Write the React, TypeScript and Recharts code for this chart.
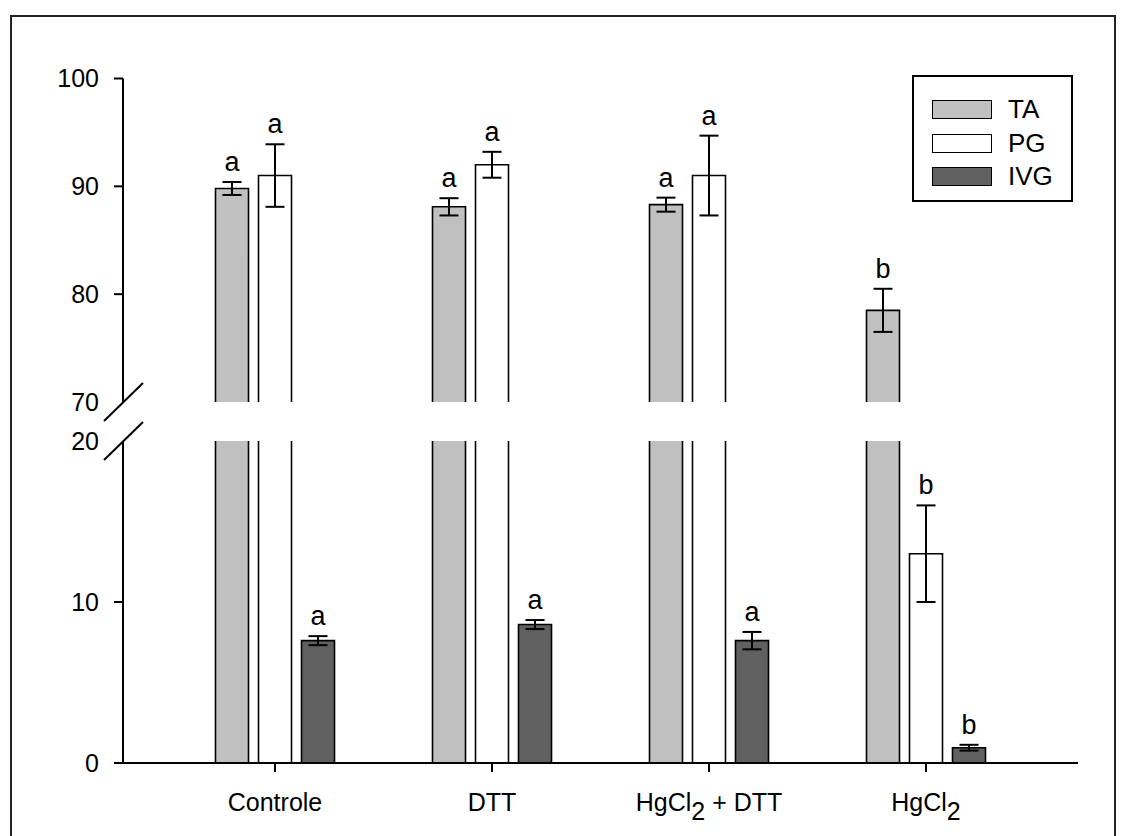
import React from 'react';
import { BarChart, Bar, XAxis, YAxis, ErrorBar, LabelList } from 'recharts';

const categories = ['Controle', 'DTT', 'HgCl2 + DTT', 'HgCl2'];

const taMean = [89.8, 88.1, 88.3, 78.5];
const taErr = [0.6, 0.8, 0.65, 2.0];
const taLetters = ['a', 'a', 'a', 'b'];

const pgMean = [91.0, 92.0, 91.0, 13.0];
const pgErr = [2.9, 1.2, 3.7, 3.0];
const pgLetters = ['a', 'a', 'a', 'b'];

const ivgMean = [7.6, 8.6, 7.6, 0.95];
const ivgErr = [0.28, 0.28, 0.54, 0.18];
const ivgLetters = ['a', 'a', 'a', 'b'];

const upperDomain = [70, 100];
const lowerDomain = [0, 20];
const upperTicks = [70, 80, 90, 100];
const lowerTicks = [0, 10, 20];
const breakTicks = [70, 20];

const series = [
  { key: 'TA', mean: taMean, err: taErr, letters: taLetters, fill: '#c0c0c0' },
  { key: 'PG', mean: pgMean, err: pgErr, letters: pgLetters, fill: '#ffffff' },
  { key: 'IVG', mean: ivgMean, err: ivgErr, letters: ivgLetters, fill: '#606060' },
];

// layout
const FONT = '"Liberation Sans", Arial, sans-serif';
const W = 1125;
const AXIS_X = 123;
const RIGHT = 47;
const UP_TOP = 78.5;
const UP_BOTTOM = 402;
const UP_H = 460;
const LO_TOP = 441;
const LO_BOTTOM = 763;
const LO_H = 836;
const X_AXIS_H = 50;
const Y_TICK_SIZE = 9;
const Y_TICK_MARGIN = 15;
const PAD = 43.5;

function panelRows(lo: number, hi: number) {
  return categories.map((name, i) => {
    const row: any = { name };
    series.forEach((s) => {
      const v = s.mean[i];
      const inside = v >= lo && v <= hi;
      row[s.key] = v >= lo ? v : null;
      row[s.key + 'Err'] = inside ? s.err[i] : null;
      row[s.key + 'Lab'] = inside ? s.letters[i] : null;
    });
    return row;
  });
}

const upperRows = panelRows(upperDomain[0], upperDomain[1]);
const lowerRows = panelRows(lowerDomain[0], lowerDomain[1]);

// bar outline without a bottom edge, cut open where it leaves the panel
const BarShape = (p: any) => {
  const { x, y, width, height, fill, background } = p;
  if (!width || height == null || isNaN(y)) return null;
  const top0 = Math.min(y, y + height);
  const bot0 = Math.max(y, y + height);
  const bTop = background ? background.y : top0;
  const bBot = background ? background.y + background.height : bot0;
  const top = Math.max(top0, bTop);
  const bot = Math.min(bot0, bBot);
  if (bot <= top) return null;
  const openTop = top0 < bTop - 0.5;
  const d = openTop
    ? `M${x},${bot}V${top}M${x + width},${top}V${bot}`
    : `M${x},${bot}V${top}H${x + width}V${bot}`;
  return (
    <g>
      <rect x={x} y={top} width={width} height={bot - top} fill={fill} stroke="none" />
      <path d={d} fill="none" stroke="#000" strokeWidth={1.6} />
    </g>
  );
};

const YTick = (props: any) => {
  const { x, y, payload } = props;
  const ax = x + Y_TICK_SIZE + Y_TICK_MARGIN;
  const isBreak = breakTicks.includes(payload.value);
  return (
    <g>
      {isBreak ? (
        <line x1={ax - 19} y1={y + 19} x2={ax + 20} y2={y - 19} stroke="#000" strokeWidth={2} />
      ) : (
        <line x1={ax - Y_TICK_SIZE} y1={y} x2={ax} y2={y} stroke="#000" strokeWidth={2} />
      )}
      <text x={x} y={y} dy="0.355em" textAnchor="end" fontSize={25} fontFamily={FONT} fill="#000">
        {payload.value}
      </text>
    </g>
  );
};

const XTick = (props: any) => {
  const { x, y, payload } = props;
  const parts = String(payload.value).split('Cl2');
  return (
    <text x={x} y={y + 37} textAnchor="middle" fontSize={25} fontFamily={FONT} fill="#000">
      {parts.length > 1 ? (
        <>
          <tspan>{parts[0]}Cl</tspan>
          <tspan dy={9}>2</tspan>
          {parts[1] ? <tspan dy={-9}>{parts[1]}</tspan> : null}
        </>
      ) : (
        payload.value
      )}
    </text>
  );
};

const makeLetter = (s: any, ppu: number) => (props: any) => {
  const { value, index } = props;
  if (!value) return null;
  const vb = props.viewBox || props;
  const cx = vb.x + vb.width / 2;
  const top = Math.min(vb.y, vb.y + vb.height);
  const err = s.err[index] || 0;
  return (
    <text x={cx} y={top - err * ppu - 11} textAnchor="middle" fontSize={27} fontFamily={FONT} fill="#000">
      {value}
    </text>
  );
};

function Panel({ rows, domain, ticks, height, margin, showX, ppu }: any) {
  return (
    <BarChart width={W} height={height} data={rows} margin={margin} barSize={33} barGap={10}>
      <XAxis
        dataKey="name"
        hide={!showX}
        height={X_AXIS_H}
        padding={{ left: PAD, right: PAD }}
        axisLine={{ stroke: '#000', strokeWidth: 2 }}
        tickLine={{ stroke: '#000', strokeWidth: 2 }}
        tickSize={9}
        tickMargin={2}
        tick={<XTick />}
        interval={0}
      />
      <YAxis
        type="number"
        domain={domain}
        ticks={ticks}
        allowDataOverflow
        width={AXIS_X}
        axisLine={{ stroke: '#000', strokeWidth: 2 }}
        tickLine={false}
        tickSize={Y_TICK_SIZE}
        tickMargin={Y_TICK_MARGIN}
        tick={<YTick />}
        interval={0}
      />
      {series.map((s) => (
        <Bar key={s.key} dataKey={s.key} fill={s.fill} shape={<BarShape />} isAnimationActive={false}>
          <ErrorBar dataKey={s.key + 'Err'} width={9.5} stroke="#000" strokeWidth={2} direction="y" />
          <LabelList dataKey={s.key + 'Lab'} content={makeLetter(s, ppu)} />
        </Bar>
      ))}
    </BarChart>
  );
}

export default function App() {
  const upperPpu = (UP_BOTTOM - UP_TOP) / (upperDomain[1] - upperDomain[0]);
  const lowerPpu = (LO_BOTTOM - LO_TOP) / (lowerDomain[1] - lowerDomain[0]);
  return (
    <div style={{ position: 'absolute', left: 0, top: 0, width: W, height: 836, overflow: 'hidden', background: '#fff', fontFamily: FONT }}>
      <div style={{ position: 'absolute', left: 10, top: 15, width: 1106, height: 860, border: '2px solid #222', boxSizing: 'border-box' }} />
      <div style={{ position: 'absolute', left: 0, top: 0 }}>
        <Panel
          rows={upperRows}
          domain={upperDomain}
          ticks={upperTicks}
          height={UP_H}
          margin={{ top: UP_TOP, right: RIGHT, bottom: UP_H - UP_BOTTOM, left: 0 }}
          showX={false}
          ppu={upperPpu}
        />
      </div>
      <div style={{ position: 'absolute', left: 0, top: 0 }}>
        <Panel
          rows={lowerRows}
          domain={lowerDomain}
          ticks={lowerTicks}
          height={LO_H}
          margin={{ top: LO_TOP, right: RIGHT, bottom: LO_H - LO_BOTTOM - X_AXIS_H, left: 0 }}
          showX={true}
          ppu={lowerPpu}
        />
      </div>
      <div style={{ position: 'absolute', left: 912, top: 75, width: 161, height: 127, border: '2px solid #000', boxSizing: 'border-box', background: '#fff' }}>
        {series.map((s, i) => (
          <div key={s.key} style={{ position: 'absolute', left: 18, top: 23 + i * 33.5, display: 'flex', alignItems: 'center', height: 19 }}>
            <div style={{ width: 60, height: 19, background: s.fill, border: '1.5px solid #000', boxSizing: 'border-box' }} />
            <span style={{ marginLeft: 16, fontSize: 26, lineHeight: '19px', color: '#000' }}>{s.key}</span>
          </div>
        ))}
      </div>
    </div>
  );
}
